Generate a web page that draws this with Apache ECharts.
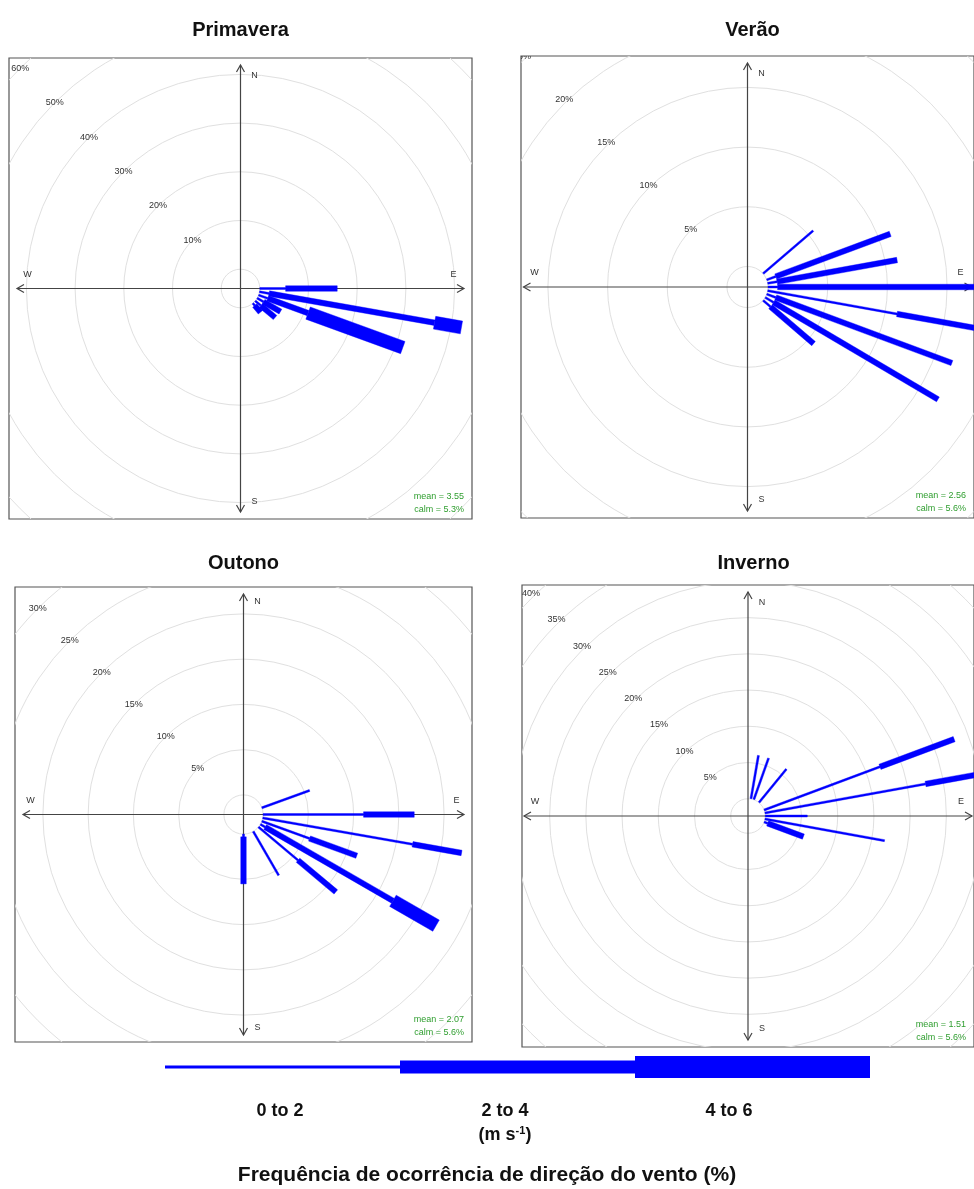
<!DOCTYPE html>
<html>
<head>
<meta charset="utf-8">
<script src="https://cdn.jsdelivr.net/npm/echarts/dist/echarts.min.js"></script>
<style>
  html, body { margin: 0; padding: 0; background: #ffffff; }
  #chart { width: 974px; height: 1189px; }
</style>
</head>
<body>
<div id="chart"></div>
<script>
// ---- data -------------------------------------------------------------
// Wind direction (degrees from north) and frequency (%) in each speed class.
const speedBins = ['0 to 2', '2 to 4', '4 to 6'];
const speedUnit = 'm s';
const seasonNames = ['Primavera', 'Verão', 'Outono', 'Inverno'];
const chartTitle = 'Frequência de ocorrência de direção do vento (%)';
const compass = ['N', 'E', 'S', 'W'];
const compassBearing = [0, 90, 180, 270];

const dirPrimavera  = [90, 100, 110, 120, 130, 140];
const bin1Primavera = [5.3, 2.0, 2.0, 1.5, 1.5, 0.6];
const bin2Primavera = [10.6, 34.5, 8.8, 4.0, 3.8, 1.8];
const bin3Primavera = [0, 5.6, 20.7, 0, 0, 0];
const ringsPrimavera = [10, 20, 30, 40, 50, 60];
const meanPrimavera = '3.55';
const calmPrimavera = '5.3%';

const dirVerao  = [50, 70, 80, 90, 100, 110, 120, 130];
const bin1Verao = [5.45, 0.8, 0.8, 0.8, 11.0, 0.8, 0.8, 0.8];
const bin2Verao = [0, 10.2, 10.2, 17.7, 7.0, 15.7, 15.9, 4.7];
const bin3Verao = [0, 0, 0, 0, 0, 0, 0, 0];
const ringsVerao = [5, 10, 15, 20, 25];
const meanVerao = '2.56';
const calmVerao = '5.6%';

const dirOutono  = [70, 90, 100, 110, 120, 130, 150, 180];
const bin1Outono = [5.6, 11.1, 16.8, 5.6, 0.6, 5.7, 5.6, 0.3];
const bin2Outono = [0, 5.6, 5.5, 5.55, 16.3, 5.45, 0, 5.2];
const bin3Outono = [0, 0, 0, 0, 5.5, 0, 0, 0];
const ringsOutono = [5, 10, 15, 20, 25, 30];
const meanOutono = '2.07';
const calmOutono = '5.6%';

const dirInverno  = [10, 20, 40, 70, 80, 90, 100, 110];
const bin1Inverno = [5.9, 5.9, 5.85, 17.0, 22.5, 5.8, 16.75, 0.5];
const bin2Inverno = [0, 0, 0, 10.9, 7.5, 0, 0, 5.25];
const bin3Inverno = [0, 0, 0, 0, 0, 0, 0, 0];
const ringsInverno = [5, 10, 15, 20, 25, 30, 35, 40];
const meanInverno = '1.51';
const calmInverno = '5.6%';

// ---- layout -----------------------------------------------------------
// Box of each rose (px), pixels per 1 % of frequency, radius of the calm hole (px).
const panels = [
  { name: seasonNames[0], dir: dirPrimavera, bins: [bin1Primavera, bin2Primavera, bin3Primavera],
    rings: ringsPrimavera, mean: meanPrimavera, calm: calmPrimavera, titleY: 30,
    left: 9, top: 58, width: 463, height: 461, scale: 4.87, hole: 19.3 },
  { name: seasonNames[1], dir: dirVerao, bins: [bin1Verao, bin2Verao, bin3Verao],
    rings: ringsVerao, mean: meanVerao, calm: calmVerao, titleY: 30,
    left: 521, top: 56, width: 463, height: 462, scale: 12.2, hole: 21 },
  { name: seasonNames[2], dir: dirOutono, bins: [bin1Outono, bin2Outono, bin3Outono],
    rings: ringsOutono, mean: meanOutono, calm: calmOutono, titleY: 563,
    left: 15, top: 587, width: 457, height: 455, scale: 9.05, hole: 19.6 },
  { name: seasonNames[3], dir: dirInverno, bins: [bin1Inverno, bin2Inverno, bin3Inverno],
    rings: ringsInverno, mean: meanInverno, calm: calmInverno, titleY: 563,
    left: 522, top: 585, width: 463, height: 462, scale: 7.42, hole: 17.7 }
];

const BLUE = '#0000ff';
const paddleWidth = [2, 5.5, 13];           // px, one per speed class
const RING = '#e0e0e0';
const AXIS = '#444444';
const SMALL_FONT = '9px "Liberation Sans", Arial, sans-serif';
const TITLE_FONT = 'bold 20px "Liberation Sans Narrow", "Liberation Sans", Arial, sans-serif';

const grids = [], xAxes = [], yAxes = [], series = [], graphics = [];

panels.forEach((p, i) => {
  const xr = p.width / 2 / p.scale;
  const yr = p.height / 2 / p.scale;
  const holeU = p.hole / p.scale;
  grids.push({ left: p.left, top: p.top, width: p.width, height: p.height,
               show: true, borderColor: '#555555', borderWidth: 1.2, backgroundColor: '#ffffff' });
  xAxes.push({ type: 'value', gridIndex: i, min: -xr, max: xr, show: false });
  yAxes.push({ type: 'value', gridIndex: i, min: -yr, max: yr, show: false });
  const base = { type: 'custom', xAxisIndex: i, yAxisIndex: i, coordinateSystem: 'cartesian2d',
                 clip: true, silent: true, animation: false };

  // grid circles: calm hole plus every percentage ring
  series.push(Object.assign({}, base, {
    data: [0].concat(p.rings).map(v => [v, 0]),
    renderItem: (params, api) => {
      const c = api.coord([0, 0]);
      const r = api.size([holeU + api.value(0), 0])[0];
      return { type: 'circle', shape: { cx: c[0], cy: c[1], r: r },
               style: { fill: 'none', stroke: RING, lineWidth: 1 } };
    }
  }));

  // compass axes with open arrow heads
  series.push(Object.assign({}, base, {
    data: [[0, 0]],
    renderItem: (params, api) => {
      const c = api.coord([0, 0]);
      const reach = Math.min(p.width, p.height) / 2 - 7;
      const arm = 7, spread = 4;
      const st = { stroke: AXIS, lineWidth: 1.2, fill: 'none' };
      const kids = [
        { type: 'line', shape: { x1: c[0] - reach, y1: c[1], x2: c[0] + reach, y2: c[1] }, style: st },
        { type: 'line', shape: { x1: c[0], y1: c[1] - reach, x2: c[0], y2: c[1] + reach }, style: st }
      ];
      compassBearing.forEach(b => {
        const t = b * Math.PI / 180;
        const ux = Math.sin(t), uy = -Math.cos(t);
        const tx = c[0] + ux * reach, ty = c[1] + uy * reach;
        const bx = tx - ux * arm, by = ty - uy * arm;
        kids.push({ type: 'polyline', shape: { points: [
          [bx - uy * spread, by + ux * spread], [tx, ty], [bx + uy * spread, by - ux * spread]] }, style: st });
      });
      return { type: 'group', children: kids };
    }
  }));

  // wind paddles, one segment per speed class
  series.push(Object.assign({}, base, {
    data: p.dir.map((d, k) => [d, p.bins[0][k], p.bins[1][k], p.bins[2][k]]),
    encode: { x: 0, y: 1 },
    renderItem: (params, api) => {
      const t = api.value(0) * Math.PI / 180;
      const s = Math.sin(t), co = Math.cos(t);
      let cum = 0;
      const kids = [];
      for (let k = 0; k < 3; k++) {
        const f = api.value(k + 1);
        if (!(f > 0)) continue;
        const r0 = holeU + cum, r1 = holeU + cum + f;
        cum += f;
        const a = api.coord([r0 * s, r0 * co]);
        const b = api.coord([r1 * s, r1 * co]);
        const dx = b[0] - a[0], dy = b[1] - a[1];
        const L = Math.hypot(dx, dy) || 1;
        const w = paddleWidth[k] / 2;
        const nx = -dy / L * w, ny = dx / L * w;
        kids.push({ type: 'polygon', shape: { points: [
          [a[0] + nx, a[1] + ny], [b[0] + nx, b[1] + ny], [b[0] - nx, b[1] - ny], [a[0] - nx, a[1] - ny]] },
          style: { fill: BLUE, stroke: BLUE, lineWidth: 0.4 } });
      }
      return { type: 'group', children: kids };
    }
  }));

  // percentage labels along the north-west diagonal
  series.push(Object.assign({}, base, {
    data: p.rings.map(v => [v, 0]),
    renderItem: (params, api) => {
      const v = api.value(0);
      const r = (holeU + v) * Math.SQRT1_2;
      const pt = api.coord([-r, r]);
      return { type: 'text', style: { text: v + '%', x: pt[0], y: pt[1], align: 'center',
               verticalAlign: 'middle', font: SMALL_FONT, fill: '#333333' } };
    }
  }));

  // N / E / S / W letters
  series.push(Object.assign({}, base, {
    data: compass.map((n, k) => [compassBearing[k], 0]),
    renderItem: (params, api) => {
      const c = api.coord([0, 0]);
      const b = api.value(0);
      const t = b * Math.PI / 180;
      const along = 213, side = 14;
      let x = c[0] + Math.sin(t) * along, y = c[1] - Math.cos(t) * along;
      if (b % 180 === 0) x += side; else y -= side;
      return { type: 'text', style: { text: compass[params.dataIndex], x: x, y: y, align: 'center',
               verticalAlign: 'middle', font: SMALL_FONT, fill: '#333333' } };
    }
  }));

  // mean speed and calm share, bottom-right corner
  series.push(Object.assign({}, base, {
    data: [[xr, -yr]],
    renderItem: (params, api) => {
      const c = api.coord([api.value(0), api.value(1)]);
      const st = { align: 'right', verticalAlign: 'middle', font: SMALL_FONT, fill: '#2f9e2f' };
      return { type: 'group', children: [
        { type: 'text', style: Object.assign({ text: 'mean = ' + p.mean, x: c[0] - 8, y: c[1] - 22 }, st) },
        { type: 'text', style: Object.assign({ text: 'calm = ' + p.calm, x: c[0] - 8, y: c[1] - 9 }, st) }
      ] };
    }
  }));

  // season title
  graphics.push({ type: 'text', x: p.left + p.width / 2, y: p.titleY,
    style: { text: p.name, font: TITLE_FONT, fill: '#111111', align: 'center', verticalAlign: 'middle' } });
});

// ---- speed-class key ----------------------------------------------------
const keyLeft = 165, keySeg = 235, keyY = 1067;
const keyHeights = [3, 13, 22];
const keyLabelX = [280, 505, 729];
const KEY_FONT = 'bold 18px "Liberation Sans", Arial, sans-serif';
speedBins.forEach((lab, k) => {
  graphics.push({ type: 'rect', shape: { x: keyLeft + k * keySeg, y: keyY - keyHeights[k] / 2,
    width: keySeg, height: keyHeights[k] }, style: { fill: BLUE } });
  graphics.push({ type: 'text', x: keyLabelX[k], y: keyY + 44,
    style: { text: lab, font: KEY_FONT, fill: '#111',
             align: 'center', verticalAlign: 'middle' } });
});
graphics.push({ type: 'text', x: keyLabelX[1], y: keyY + 68,
  style: { text: '(' + speedUnit + '{sup|-1})', font: KEY_FONT,
           fill: '#111', align: 'center', verticalAlign: 'middle',
           rich: { sup: { font: 'bold 11px "Liberation Sans", Arial, sans-serif', verticalAlign: 'top',
                          padding: [0, 0, 8, 0], fill: '#111' } } } });
graphics.push({ type: 'text', x: 487, y: 1175,
  style: { text: chartTitle, font: 'bold 21px "Liberation Sans Narrow", "Liberation Sans", Arial, sans-serif',
           fill: '#111', align: 'center', verticalAlign: 'middle' } });

const chart = echarts.init(document.getElementById('chart'), null, { renderer: 'canvas' });
chart.setOption({
  animation: false,
  backgroundColor: '#ffffff',
  grid: grids, xAxis: xAxes, yAxis: yAxes,
  series: series,
  graphic: { elements: graphics }
});
</script>
</body>
</html>
